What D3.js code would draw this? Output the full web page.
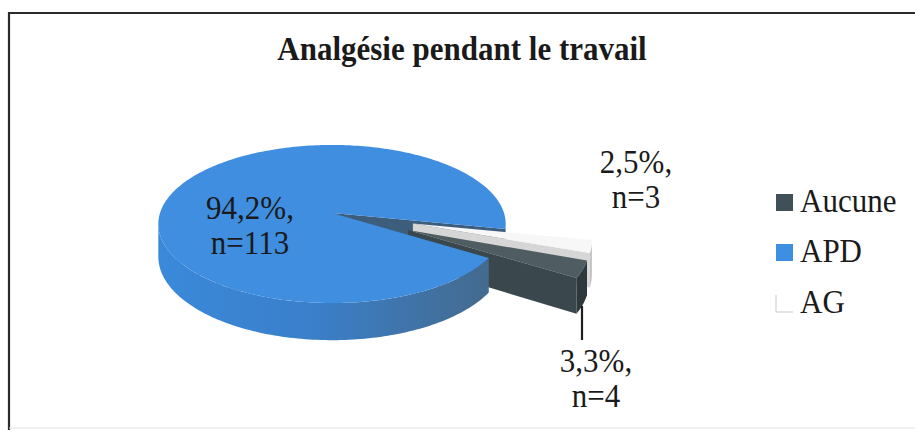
<!DOCTYPE html>
<html><head><meta charset="utf-8">
<script src="https://cdn.jsdelivr.net/npm/d3@7"></script>
<style>html,body{margin:0;padding:0;background:#fff;} svg{display:block}
svg text{font-family:"Liberation Serif", Tinos, "Times New Roman", Times, "DejaVu Serif", serif;}</style>
</head><body>
<script>
// ---- data ----
const chartTitle = "Analgésie pendant le travail";
const categories = ["Aucune", "APD", "AG"];
const counts = [4, 113, 3];
const percentLabels = ["3,3%", "94,2%", "2,5%"];
const exploded = [true, false, true];

// ---- layout / style ----
const W = 915, H = 430;
const SY = 1.12; // scanned text is slightly taller than wide
const topCol  = ["#4f5d63", "#3f8ee0", "#f7f7f7"];
const wallCol = ["#3a474c", "#3d5d7c", "#d6d6d6"];
const sideCol = ["#2e393d", null, "#c2c2c2"];
const legendCol = ["#3f5058", "#3d8fe2", "#ffffff"];

const svg = d3.select("body").append("svg").attr("width", W).attr("height", H);
svg.append("rect").attr("width", W).attr("height", H).attr("fill", "#fff");

const defs = svg.append("defs");
const g1 = defs.append("linearGradient").attr("id", "blueSide")
  .attr("gradientUnits", "userSpaceOnUse").attr("x1", 160).attr("x2", 500).attr("y1", 0).attr("y2", 0);
g1.append("stop").attr("offset", 0).attr("stop-color", "#3a89da");
g1.append("stop").attr("offset", 0.45).attr("stop-color", "#3a7fca");
g1.append("stop").attr("offset", 1).attr("stop-color", "#45698a");

// frame
svg.append("path").attr("d", "M9,430 V13 H915").attr("fill", "none")
  .attr("stroke", "#2b2b2b").attr("stroke-width", 2.2);
svg.append("line").attr("x1", 9).attr("x2", 915).attr("y1", 428).attr("y2", 428)
  .attr("stroke", "#e2e2e2").attr("stroke-width", 1);

function scaledText(parent, x, y, str, size, weight, anchor) {
  parent.append("text")
    .attr("transform", `translate(${x},${y}) scale(1,${SY})`)
    .attr("text-anchor", anchor || "middle")
    .style("font-size", size + "px")
    .style("font-weight", weight || "normal").attr("fill", "#1a1a1a")
    .text(str);
}
scaledText(svg, 462, 60, chartTitle, 31, "bold");

// ---- 3D pie ----
const cx = 332, cy = 213, RX = 172, RY = 77.5, K = 0.139, TH = 32, EXPLODE = 0.48;
function proj(u, v, h) { const f = 1 / (1 - K * v); return [cx + RX * u * f, cy + (RY * v + TH * h) * f]; }

const a0 = 110.5 * Math.PI / 180;
const pie = d3.pie().sort(null).value(d => d).startAngle(a0).endAngle(a0 + 2 * Math.PI);
const arcs = pie(counts).map((d, i) => {
  const mid = (d.startAngle + d.endAngle) / 2;
  const e = exploded[i] ? EXPLODE : 0;
  return { i, a0: d.startAngle, a1: d.endAngle, du: e * Math.sin(mid), dv: -e * Math.cos(mid), midV: -Math.cos(mid) };
});

function pt(s, a, r, h) { return proj(s.du + r * Math.sin(a), s.dv - r * Math.cos(a), h); }
function arcPts(s, from, to, h) {
  const n = Math.max(2, Math.ceil(Math.abs(to - from) / 0.02));
  const out = [];
  for (let k = 0; k <= n; k++) out.push(pt(s, from + (to - from) * k / n, 1, h));
  return out;
}
const line = pts => "M" + pts.map(p => p[0].toFixed(2) + "," + p[1].toFixed(2)).join("L") + "Z";

function topFace(s) { return line([pt(s, 0, 0, 0)].concat(arcPts(s, s.a0, s.a1, 0))); }
function wall(s, a) { return line([pt(s, a, 0, 0), pt(s, a, 1, 0), pt(s, a, 1, 1), pt(s, a, 0, 1)]); }
function sideSegments(s) {
  const lo = Math.PI / 2 + Math.asin(K), hi = 1.5 * Math.PI - Math.asin(K);
  const segs = [];
  for (let k = -1; k <= 2; k++) {
    const from = Math.max(s.a0, lo + 2 * Math.PI * k), to = Math.min(s.a1, hi + 2 * Math.PI * k);
    if (to > from) segs.push([from, to]);
  }
  return segs.map(([f, t]) => ({
    d: line(arcPts(s, f, t, 0).concat(arcPts(s, t, f, 1))),
    midV: -Math.cos((f + t) / 2)
  }));
}
function visibleWalls(s) {
  const w = [];
  if (Math.cos(s.a0 - Math.PI / 2) < 0) w.push(s.a0);
  if (Math.cos(s.a1 - Math.PI / 2) > 0) w.push(s.a1);
  return w;
}

const pieG = svg.append("g");
const still = arcs.filter(s => !exploded[s.i]);
const moved = arcs.filter(s => exploded[s.i]).sort((a, b) => a.midV - b.midV);

still.forEach(s => {
  visibleWalls(s).forEach(a => pieG.append("path").attr("d", wall(s, a)).attr("fill", wallCol[s.i]));
  sideSegments(s).filter(g => g.midV < 0.35).forEach(g =>
    pieG.append("path").attr("d", g.d).attr("fill", sideCol[s.i] || "url(#blueSide)"));
});
moved.forEach(s => {
  visibleWalls(s).forEach(a => pieG.append("path").attr("d", wall(s, a)).attr("fill", wallCol[s.i]));
  sideSegments(s).forEach(g => pieG.append("path").attr("d", g.d).attr("fill", sideCol[s.i]));
  pieG.append("path").attr("d", topFace(s)).attr("fill", topCol[s.i]);
});
still.forEach(s => {
  sideSegments(s).filter(g => g.midV >= 0.35).forEach(g =>
    pieG.append("path").attr("d", g.d).attr("fill", sideCol[s.i] || "url(#blueSide)"));
  pieG.append("path").attr("d", topFace(s)).attr("fill", topCol[s.i]);
});

// ---- data labels ----
const labelPos = { "Aucune": [596, 372], "APD": [250, 219], "AG": [636, 173] };
categories.forEach((c, i) => {
  const [x, y] = labelPos[c];
  scaledText(svg, x, y, percentLabels[i] + ",", 31);
  scaledText(svg, x, y + 35, "n=" + counts[i], 31);
});
svg.append("line").attr("x1", 582).attr("x2", 582).attr("y1", 306).attr("y2", 340)
  .attr("stroke", "#1e1e1e").attr("stroke-width", 2.2);

// ---- legend ----
const legend = svg.append("g");
const legY = [212, 262, 313];
categories.forEach((c, i) => {
  legend.append("rect").attr("x", 776).attr("y", legY[i] - 18).attr("width", 17).attr("height", 17)
    .attr("fill", legendCol[i]);
  if (legendCol[i] === "#ffffff") {
    legend.append("path").attr("d", `M776,${legY[i] - 18} V${legY[i] - 1} H793`)
      .attr("fill", "none").attr("stroke", "#c8c8c8").attr("stroke-width", 1);
  }
  scaledText(legend, 800, legY[i], c, 31, "normal", "start");
});
</script>
</body></html>
